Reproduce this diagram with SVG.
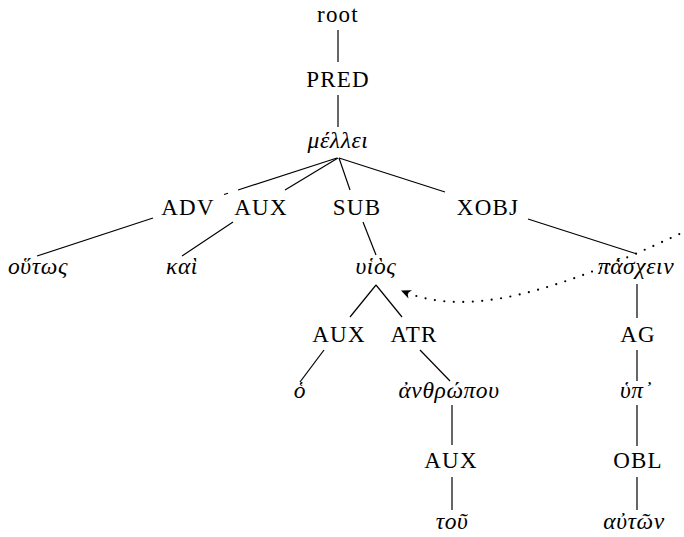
<svg xmlns="http://www.w3.org/2000/svg" width="684" height="537" viewBox="0 0 684 537">
  <style>
    text { font-family: "Liberation Serif", "DejaVu Serif", serif; fill: #000; text-anchor: middle; }
    .lbl { font-size: 23px; letter-spacing: 1.2px; }
    .gr { font-size: 23.5px; font-style: italic; letter-spacing: 0.6px; }
    .edge { stroke: #000; stroke-width: 1.2; fill: none; stroke-linecap: butt; }
    .dep { stroke: #000; stroke-width: 2.2; fill: none; stroke-linecap: round; stroke-dasharray: 0 9.5; }
  </style>
  <defs>
    <marker id="stealth" markerUnits="userSpaceOnUse" viewBox="-11 -6 12 12" refX="0" refY="0" markerWidth="12" markerHeight="12" orient="auto">
      <path d="M0,0 L-10,-4.5 L-7.2,0 L-10,4.5 Z" fill="#000"/>
    </marker>
  </defs>
  <rect width="684" height="537" fill="#fff"/>

  <!-- tree edges -->
  <g id="edges">
    <line class="edge" x1="338" y1="30" x2="338" y2="62"/>
    <line class="edge" x1="338" y1="95" x2="338" y2="127"/>
    <!-- fan under the verb -->
    <line class="edge" x1="337" y1="158" x2="238" y2="190"/>
    <line class="edge" x1="228" y1="193.2" x2="224" y2="194.5"/>
    <line class="edge" x1="338" y1="158" x2="285" y2="190"/>
    <line class="edge" x1="339" y1="158" x2="350" y2="190"/>
    <line class="edge" x1="339" y1="158" x2="445" y2="192"/>
    <!-- second level -->
    <line class="edge" x1="153" y1="218" x2="37" y2="256"/>
    <line class="edge" x1="233" y1="222" x2="182" y2="256"/>
    <line class="edge" x1="363" y1="222" x2="376" y2="255"/>
    <line class="edge" x1="528" y1="219" x2="637" y2="254"/>
    <!-- below the subject -->
    <line class="edge" x1="376" y1="285" x2="350" y2="317"/>
    <line class="edge" x1="376" y1="285" x2="402" y2="317"/>
    <line class="edge" x1="324" y1="350" x2="300" y2="382"/>
    <line class="edge" x1="420" y1="350" x2="450" y2="381"/>
    <line class="edge" x1="452" y1="405" x2="452" y2="445"/>
    <line class="edge" x1="452" y1="477" x2="452" y2="510"/>
    <!-- below the infinitive -->
    <line class="edge" x1="637" y1="284" x2="637" y2="318"/>
    <line class="edge" x1="637" y1="350" x2="637" y2="381"/>
    <line class="edge" x1="637" y1="405" x2="637" y2="446"/>
    <line class="edge" x1="637" y1="477" x2="637" y2="510"/>
    <!-- dotted dependency arc -->
    <path class="dep" d="M688,230 C560,290 470,320 401,290.5" marker-end="url(#stealth)"/>
  </g>

  <g id="n-root"><text class="lbl" x="338" y="22">root</text></g>
  <g id="n-pred"><text class="lbl" x="338" y="87">PRED</text></g>
  <g id="n-mellei"><text class="gr" x="338" y="148">μέλλει</text></g>

  <g id="n-adv"><text class="lbl" x="188" y="215">ADV</text></g>
  <g id="n-aux1"><text class="lbl" x="261" y="215">AUX</text></g>
  <g id="n-sub"><text class="lbl" x="357" y="215">SUB</text></g>
  <g id="n-xobj"><text class="lbl" x="488" y="215">XOBJ</text></g>

  <g id="n-houtos"><text class="gr" x="38" y="274">οὕτως</text></g>
  <g id="n-kai"><text class="gr" x="182" y="274">καὶ</text></g>
  <g id="n-huios"><text class="gr" x="376" y="274">υἱὸς</text></g>
  <g id="n-paschein"><text class="gr" x="636" y="274">πάσχειν</text></g>

  <g id="n-aux2"><text class="lbl" x="339" y="342">AUX</text></g>
  <g id="n-atr"><text class="lbl" x="414" y="342">ATR</text></g>
  <g id="n-ag"><text class="lbl" x="638" y="342">AG</text></g>

  <g id="n-ho"><text class="gr" x="300" y="398">ὁ</text></g>
  <g id="n-anthropou"><text class="gr" x="449" y="398">ἀνθρώπου</text></g>
  <g id="n-hyp"><text class="gr" x="636" y="398">ὑπ᾽</text></g>

  <g id="n-aux3"><text class="lbl" x="451" y="468">AUX</text></g>
  <g id="n-obl"><text class="lbl" x="638" y="468">OBL</text></g>

  <g id="n-tou"><text class="gr" x="452" y="529">τοῦ</text></g>
  <g id="n-auton"><text class="gr" x="634" y="529">αὐτῶν</text></g>
</svg>
